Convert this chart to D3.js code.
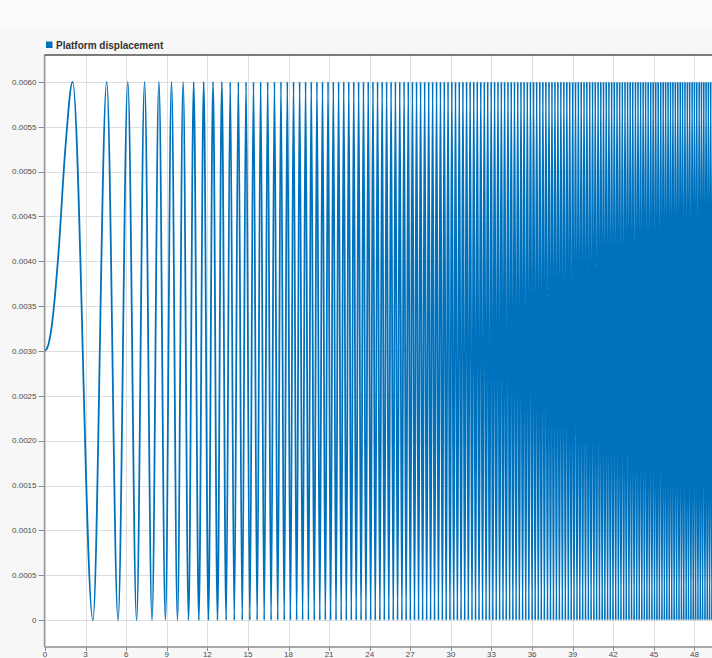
<!DOCTYPE html>
<html>
<head>
<meta charset="utf-8">
<script src="https://cdn.jsdelivr.net/npm/d3@7/dist/d3.min.js"></script>
<style>
  html, body { margin: 0; padding: 0; background: #f7f7f7; }
  text { font-family: "Liberation Sans", Arial, sans-serif; }
</style>
</head>
<body>
<div id="chart"></div>
<script>
// signal: Platform displacement (chirp)
const seriesName = "Platform displacement";

// first slow rise from the starting level
const riseTimes  = [0, 0.25, 0.5, 1.0, 1.5];
const riseValues = [0.003, 0.00307, 0.00328, 0.0041, 0.00525];

// times of the maxima (value 0.006) and minima (value 0)
const peakValue = 0.006;
const troughValue = 0;
const peakTimes = [2.04, 4.56, 6.12, 7.36, 8.42, 9.35, 10.21, 10.99, 11.73, 12.42, 13.07, 13.69, 14.29, 14.86, 15.41, 15.94,
  16.46, 16.96, 17.44, 17.91, 18.37, 18.82, 19.26, 19.68, 20.10, 20.51, 20.92, 21.31, 21.70, 22.08, 22.45, 22.82, 23.18,
  23.54, 23.89, 24.24, 24.58, 24.92, 25.25, 25.58, 25.90, 26.22, 26.54, 26.85, 27.16, 27.46, 27.76, 28.06, 28.36, 28.65,
  28.94, 29.23, 29.51, 29.79, 30.07, 30.34, 30.62, 30.89, 31.16, 31.42, 31.69, 31.95, 32.21, 32.47, 32.72, 32.98, 33.23,
  33.48, 33.73, 33.97, 34.22, 34.46, 34.70, 34.94, 35.18, 35.41, 35.65, 35.88, 36.11, 36.34, 36.57, 36.80, 37.02, 37.25,
  37.47, 37.69, 37.91, 38.13, 38.35, 38.57, 38.78, 39.00, 39.21, 39.42, 39.63, 39.84, 40.05, 40.26, 40.47, 40.67, 40.88,
  41.08, 41.28, 41.48, 41.68, 41.88, 42.08, 42.28, 42.47, 42.67, 42.87, 43.06, 43.25, 43.44, 43.64, 43.83, 44.02, 44.21,
  44.39, 44.58, 44.77, 44.95, 45.14, 45.32, 45.51, 45.69, 45.87, 46.05, 46.23, 46.41, 46.59, 46.77, 46.95, 47.12, 47.30,
  47.48, 47.65, 47.83, 48.00, 48.17, 48.35, 48.52, 48.69, 48.86, 49.03, 49.20, 49.37, 49.54, 49.71];
const troughTimes = [3.54, 5.40, 6.77, 7.91, 8.90, 9.79, 10.61, 11.37, 12.08, 12.75, 13.39, 13.99, 14.58, 15.14, 15.68,
  16.20, 16.71, 17.20, 17.68, 18.14, 18.60, 19.04, 19.47, 19.90, 20.31, 20.72, 21.11, 21.51, 21.89, 22.27, 22.64, 23.00,
  23.36, 23.72, 24.07, 24.41, 24.75, 25.08, 25.41, 25.74, 26.06, 26.38, 26.69, 27.00, 27.31, 27.61, 27.91, 28.21, 28.50,
  28.79, 29.08, 29.37, 29.65, 29.93, 30.21, 30.48, 30.75, 31.02, 31.29, 31.56, 31.82, 32.08, 32.34, 32.60, 32.85, 33.10,
  33.35, 33.60, 33.85, 34.09, 34.34, 34.58, 34.82, 35.06, 35.30, 35.53, 35.76, 36.00, 36.23, 36.46, 36.68, 36.91, 37.14,
  37.36, 37.58, 37.80, 38.02, 38.24, 38.46, 38.68, 38.89, 39.10, 39.32, 39.53, 39.74, 39.95, 40.16, 40.36, 40.57, 40.77,
  40.98, 41.18, 41.38, 41.58, 41.78, 41.98, 42.18, 42.38, 42.57, 42.77, 42.96, 43.16, 43.35, 43.54, 43.73, 43.92, 44.11,
  44.30, 44.49, 44.67, 44.86, 45.05, 45.23, 45.41, 45.60, 45.78, 45.96, 46.14, 46.32, 46.50, 46.68, 46.86, 47.04, 47.21,
  47.39, 47.56, 47.74, 47.91, 48.09, 48.26, 48.43, 48.60, 48.78, 48.95, 49.12, 49.29, 49.45, 49.62];

const xTicks = [0, 3, 6, 9, 12, 15, 18, 21, 24, 27, 30, 33, 36, 39, 42, 45, 48];
const yTicks = [0, 0.0005, 0.001, 0.0015, 0.002, 0.0025, 0.003, 0.0035, 0.004, 0.0045, 0.005, 0.0055, 0.006];
const yTickLabels = ["0", "0.0005", "0.0010", "0.0015", "0.0020", "0.0025", "0.0030", "0.0035", "0.0040",
  "0.0045", "0.0050", "0.0055", "0.0060"];

const width = 712, height = 658;
const margin = { top: 55, right: -10, bottom: 11, left: 44.5 };
const lineColor = "#0072bd";

const points = riseTimes.map((t, i) => ({ t: t, v: riseValues[i] }))
  .concat(peakTimes.map(t => ({ t: t, v: peakValue })))
  .concat(troughTimes.map(t => ({ t: t, v: troughValue })))
  .sort((a, b) => a.t - b.t);

const svg = d3.select("#chart").append("svg")
  .attr("width", width)
  .attr("height", height);

svg.append("rect").attr("width", width).attr("height", height).attr("fill", "#f7f7f7");
svg.append("rect").attr("width", width).attr("height", 28).attr("fill", "#fbfbfb");

const x = d3.scaleLinear()
  .domain([0, 50])
  .range([margin.left + 0.5, margin.left + 0.5 + 50 * 13.53]);

const y = d3.scaleLinear()
  .domain([-0.0003, 0.0063])
  .range([height - margin.bottom, margin.top]);

const plotW = width - margin.left;
const plotTop = margin.top, plotBottom = height - margin.bottom;

svg.append("rect")
  .attr("x", margin.left).attr("y", plotTop)
  .attr("width", plotW).attr("height", plotBottom - plotTop)
  .attr("fill", "#ffffff");

// grid
svg.append("g").selectAll("line.gx")
  .data(xTicks).enter().append("line")
  .attr("x1", d => Math.round(x(d)) + 0.5).attr("x2", d => Math.round(x(d)) + 0.5)
  .attr("y1", plotTop).attr("y2", plotBottom)
  .attr("stroke", "#dedede").attr("stroke-width", 1);

svg.append("g").selectAll("line.gy")
  .data(yTicks).enter().append("line")
  .attr("x1", margin.left).attr("x2", width)
  .attr("y1", d => Math.round(y(d)) + 0.5).attr("y2", d => Math.round(y(d)) + 0.5)
  .attr("stroke", "#dedede").attr("stroke-width", 1);

// signal
svg.append("defs").append("clipPath").attr("id", "clip")
  .append("rect")
  .attr("x", margin.left).attr("y", plotTop)
  .attr("width", plotW).attr("height", plotBottom - plotTop);

const line = d3.line()
  .x(d => x(d.t))
  .y(d => y(d.v))
  .curve(d3.curveMonotoneX);

svg.append("path")
  .datum(points)
  .attr("clip-path", "url(#clip)")
  .attr("d", line)
  .attr("fill", "none")
  .attr("stroke", lineColor)
  .attr("stroke-width", 1.8);

// axes
svg.append("line")
  .attr("x1", margin.left).attr("x2", margin.left)
  .attr("y1", plotTop).attr("y2", plotBottom)
  .attr("stroke", "#9a9a9a").attr("stroke-width", 1.5);

svg.append("line")
  .attr("x1", margin.left).attr("x2", width)
  .attr("y1", plotBottom).attr("y2", plotBottom)
  .attr("stroke", "#a8a8a8").attr("stroke-width", 2);

svg.append("line")
  .attr("x1", margin.left).attr("x2", width)
  .attr("y1", plotTop).attr("y2", plotTop)
  .attr("stroke", "#505050").attr("stroke-width", 1.5);

// y ticks + labels
const yg = svg.append("g");
yg.selectAll("line").data(yTicks).enter().append("line")
  .attr("x1", margin.left - 6).attr("x2", margin.left)
  .attr("y1", d => Math.round(y(d)) + 0.5).attr("y2", d => Math.round(y(d)) + 0.5)
  .attr("stroke", "#8c8c8c");
yg.selectAll("text").data(yTicks).enter().append("text")
  .attr("x", margin.left - 8)
  .attr("y", d => y(d))
  .attr("dy", "0.35em")
  .attr("text-anchor", "end")
  .attr("font-size", 8)
  .attr("fill", "#4a4a4a")
  .text((d, i) => yTickLabels[i]);

// x ticks + labels
const xg = svg.append("g");
xg.selectAll("line").data(xTicks).enter().append("line")
  .attr("x1", d => Math.round(x(d)) + 0.5).attr("x2", d => Math.round(x(d)) + 0.5)
  .attr("y1", plotBottom).attr("y2", plotBottom + 4)
  .attr("stroke", "#8c8c8c");
xg.selectAll("text").data(xTicks).enter().append("text")
  .attr("x", d => x(d))
  .attr("y", plotBottom + 10)
  .attr("text-anchor", "middle")
  .attr("font-size", 8)
  .attr("fill", "#4a4a4a")
  .text(d => d);

// legend
svg.append("rect")
  .attr("x", 46).attr("y", 41.5)
  .attr("width", 6.5).attr("height", 6.5)
  .attr("fill", lineColor);
svg.append("text")
  .attr("x", 56).attr("y", 48.5)
  .attr("font-size", 10)
  .attr("font-weight", "bold")
  .attr("fill", "#333")
  .text(seriesName);
</script>
</body>
</html>
